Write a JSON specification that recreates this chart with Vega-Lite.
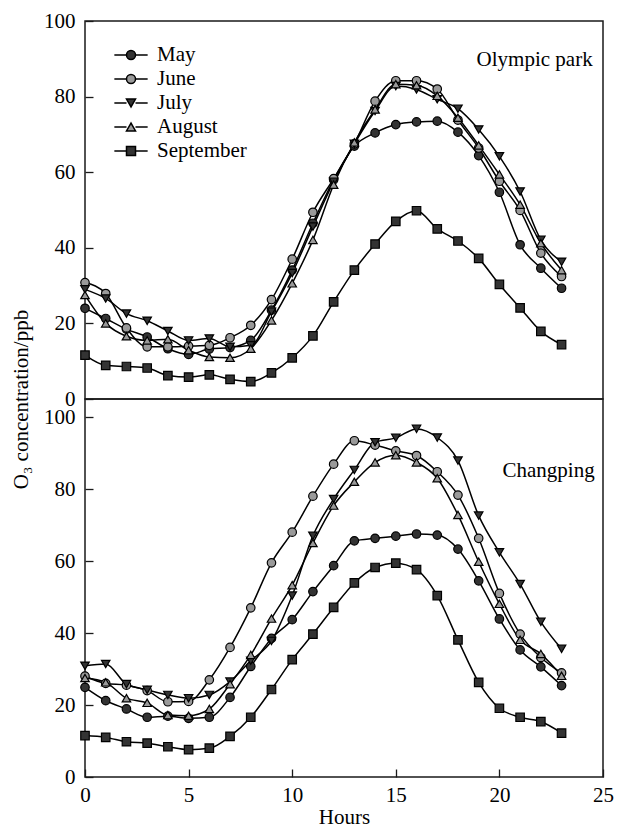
{
"$schema": "https://vega.github.io/schema/vega-lite/v6.json",
"padding": {"left": 9, "top": 9, "right": 10, "bottom": 0},
"bounds": "flush",
"spacing": 0,
"config": {
  "font": "Liberation Serif",
  "view": {"stroke": "#1a1a1a", "strokeWidth": 1.5},
  "axis": {"labelFont": "Liberation Serif", "labelFontSize": 21, "labelColor": "black", "titleFont": "Liberation Serif", "titleFontSize": 21, "titleFontWeight": "normal", "titleColor": "black", "tickColor": "#1a1a1a", "tickSize": -8, "tickWidth": 1.3, "domain": false, "grid": false, "labelFlush": false, "labelPadding": 18},
  "legend": {"labelFont": "Liberation Serif", "labelFontSize": 21, "labelColor": "black", "padding": 0, "symbolSize": 81, "rowPadding": 2, "labelOffset": 15.5, "symbolOpacity": 1}
},
"datasets": {
"olympic": [
{"m":"May","h":0,"v":24.0},{"m":"May","h":1,"v":21.3},{"m":"May","h":2,"v":18.5},{"m":"May","h":3,"v":16.4},{"m":"May","h":4,"v":13.3},{"m":"May","h":5,"v":11.8},{"m":"May","h":6,"v":13.2},{"m":"May","h":7,"v":13.6},{"m":"May","h":8,"v":15.5},{"m":"May","h":9,"v":23.5},{"m":"May","h":10,"v":34.1},{"m":"May","h":11,"v":46.5},{"m":"May","h":12,"v":58.0},{"m":"May","h":13,"v":66.9},{"m":"May","h":14,"v":70.4},{"m":"May","h":15,"v":72.6},{"m":"May","h":16,"v":73.3},{"m":"May","h":17,"v":73.5},{"m":"May","h":18,"v":70.6},{"m":"May","h":19,"v":64.4},{"m":"May","h":20,"v":54.7},{"m":"May","h":21,"v":40.8},{"m":"May","h":22,"v":34.6},{"m":"May","h":23,"v":29.3},
{"m":"June","h":0,"v":30.8},{"m":"June","h":1,"v":27.9},{"m":"June","h":2,"v":18.8},{"m":"June","h":3,"v":13.8},{"m":"June","h":4,"v":13.8},{"m":"June","h":5,"v":14.0},{"m":"June","h":6,"v":14.2},{"m":"June","h":7,"v":16.2},{"m":"June","h":8,"v":19.5},{"m":"June","h":9,"v":26.3},{"m":"June","h":10,"v":37.0},{"m":"June","h":11,"v":49.4},{"m":"June","h":12,"v":58.3},{"m":"June","h":13,"v":67.5},{"m":"June","h":14,"v":78.8},{"m":"June","h":15,"v":84.2},{"m":"June","h":16,"v":84.2},{"m":"June","h":17,"v":82.0},{"m":"June","h":18,"v":73.8},{"m":"June","h":19,"v":66.4},{"m":"June","h":20,"v":57.6},{"m":"June","h":21,"v":49.9},{"m":"June","h":22,"v":38.6},{"m":"June","h":23,"v":32.4},
{"m":"July","h":0,"v":29.0},{"m":"July","h":1,"v":26.6},{"m":"July","h":2,"v":22.6},{"m":"July","h":3,"v":20.7},{"m":"July","h":4,"v":18.0},{"m":"July","h":5,"v":15.5},{"m":"July","h":6,"v":16.0},{"m":"July","h":7,"v":13.8},{"m":"July","h":8,"v":14.2},{"m":"July","h":9,"v":23.1},{"m":"July","h":10,"v":33.3},{"m":"July","h":11,"v":45.6},{"m":"July","h":12,"v":57.5},{"m":"July","h":13,"v":67.5},{"m":"July","h":14,"v":76.2},{"m":"July","h":15,"v":82.8},{"m":"July","h":16,"v":81.9},{"m":"July","h":17,"v":79.3},{"m":"July","h":18,"v":76.8},{"m":"July","h":19,"v":71.3},{"m":"July","h":20,"v":64.2},{"m":"July","h":21,"v":54.9},{"m":"July","h":22,"v":42.1},{"m":"July","h":23,"v":36.3},
{"m":"August","h":0,"v":27.5},{"m":"August","h":1,"v":20.0},{"m":"August","h":2,"v":16.6},{"m":"August","h":3,"v":15.5},{"m":"August","h":4,"v":15.8},{"m":"August","h":5,"v":12.9},{"m":"August","h":6,"v":11.1},{"m":"August","h":7,"v":10.9},{"m":"August","h":8,"v":13.3},{"m":"August","h":9,"v":20.8},{"m":"August","h":10,"v":30.6},{"m":"August","h":11,"v":42.1},{"m":"August","h":12,"v":56.7},{"m":"August","h":13,"v":67.9},{"m":"August","h":14,"v":76.6},{"m":"August","h":15,"v":83.3},{"m":"August","h":16,"v":83.0},{"m":"August","h":17,"v":80.2},{"m":"August","h":18,"v":74.4},{"m":"August","h":19,"v":67.1},{"m":"August","h":20,"v":59.4},{"m":"August","h":21,"v":51.4},{"m":"August","h":22,"v":41.2},{"m":"August","h":23,"v":34.1},
{"m":"September","h":0,"v":11.6},{"m":"September","h":1,"v":8.9},{"m":"September","h":2,"v":8.6},{"m":"September","h":3,"v":8.2},{"m":"September","h":4,"v":6.2},{"m":"September","h":5,"v":5.8},{"m":"September","h":6,"v":6.4},{"m":"September","h":7,"v":5.2},{"m":"September","h":8,"v":4.6},{"m":"September","h":9,"v":6.9},{"m":"September","h":10,"v":10.9},{"m":"September","h":11,"v":16.7},{"m":"September","h":12,"v":25.7},{"m":"September","h":13,"v":34.1},{"m":"September","h":14,"v":41.0},{"m":"September","h":15,"v":47.0},{"m":"September","h":16,"v":49.8},{"m":"September","h":17,"v":45.0},{"m":"September","h":18,"v":41.8},{"m":"September","h":19,"v":37.2},{"m":"September","h":20,"v":30.3},{"m":"September","h":21,"v":24.1},{"m":"September","h":22,"v":17.9},{"m":"September","h":23,"v":14.4}
],
"changping": [
{"m":"May","h":0,"v":24.9},{"m":"May","h":1,"v":21.2},{"m":"May","h":2,"v":18.9},{"m":"May","h":3,"v":16.6},{"m":"May","h":4,"v":16.9},{"m":"May","h":5,"v":16.3},{"m":"May","h":6,"v":16.6},{"m":"May","h":7,"v":22.1},{"m":"May","h":8,"v":30.7},{"m":"May","h":9,"v":38.5},{"m":"May","h":10,"v":43.7},{"m":"May","h":11,"v":51.5},{"m":"May","h":12,"v":58.7},{"m":"May","h":13,"v":65.6},{"m":"May","h":14,"v":66.3},{"m":"May","h":15,"v":66.9},{"m":"May","h":16,"v":67.5},{"m":"May","h":17,"v":67.2},{"m":"May","h":18,"v":63.3},{"m":"May","h":19,"v":54.5},{"m":"May","h":20,"v":43.9},{"m":"May","h":21,"v":35.3},{"m":"May","h":22,"v":30.6},{"m":"May","h":23,"v":25.4},
{"m":"June","h":0,"v":28.0},{"m":"June","h":1,"v":26.0},{"m":"June","h":2,"v":25.5},{"m":"June","h":3,"v":24.0},{"m":"June","h":4,"v":20.9},{"m":"June","h":5,"v":21.0},{"m":"June","h":6,"v":27.0},{"m":"June","h":7,"v":36.0},{"m":"June","h":8,"v":47.0},{"m":"June","h":9,"v":59.5},{"m":"June","h":10,"v":68.0},{"m":"June","h":11,"v":78.0},{"m":"June","h":12,"v":86.9},{"m":"June","h":13,"v":93.4},{"m":"June","h":14,"v":92.2},{"m":"June","h":15,"v":90.6},{"m":"June","h":16,"v":89.3},{"m":"June","h":17,"v":84.8},{"m":"June","h":18,"v":78.3},{"m":"June","h":19,"v":66.3},{"m":"June","h":20,"v":51.0},{"m":"June","h":21,"v":39.7},{"m":"June","h":22,"v":33.2},{"m":"June","h":23,"v":28.9},
{"m":"July","h":0,"v":30.9},{"m":"July","h":1,"v":31.4},{"m":"July","h":2,"v":25.8},{"m":"July","h":3,"v":24.2},{"m":"July","h":4,"v":22.8},{"m":"July","h":5,"v":21.9},{"m":"July","h":6,"v":22.8},{"m":"July","h":7,"v":26.5},{"m":"July","h":8,"v":32.3},{"m":"July","h":9,"v":37.8},{"m":"July","h":10,"v":50.4},{"m":"July","h":11,"v":67.0},{"m":"July","h":12,"v":77.2},{"m":"July","h":13,"v":85.3},{"m":"July","h":14,"v":93.0},{"m":"July","h":15,"v":94.2},{"m":"July","h":16,"v":96.7},{"m":"July","h":17,"v":94.3},{"m":"July","h":18,"v":87.9},{"m":"July","h":19,"v":72.6},{"m":"July","h":20,"v":62.4},{"m":"July","h":21,"v":53.6},{"m":"July","h":22,"v":43.1},{"m":"July","h":23,"v":35.6},
{"m":"August","h":0,"v":27.5},{"m":"August","h":1,"v":26.3},{"m":"August","h":2,"v":21.9},{"m":"August","h":3,"v":20.6},{"m":"August","h":4,"v":17.2},{"m":"August","h":5,"v":17.0},{"m":"August","h":6,"v":18.9},{"m":"August","h":7,"v":25.8},{"m":"August","h":8,"v":33.9},{"m":"August","h":9,"v":44.0},{"m":"August","h":10,"v":53.3},{"m":"August","h":11,"v":65.0},{"m":"August","h":12,"v":75.4},{"m":"August","h":13,"v":82.0},{"m":"August","h":14,"v":87.4},{"m":"August","h":15,"v":89.4},{"m":"August","h":16,"v":87.4},{"m":"August","h":17,"v":83.0},{"m":"August","h":18,"v":72.8},{"m":"August","h":19,"v":59.8},{"m":"August","h":20,"v":48.1},{"m":"August","h":21,"v":38.1},{"m":"August","h":22,"v":34.2},{"m":"August","h":23,"v":28.1},
{"m":"September","h":0,"v":11.5},{"m":"September","h":1,"v":11.0},{"m":"September","h":2,"v":9.8},{"m":"September","h":3,"v":9.4},{"m":"September","h":4,"v":8.4},{"m":"September","h":5,"v":7.6},{"m":"September","h":6,"v":8.0},{"m":"September","h":7,"v":11.3},{"m":"September","h":8,"v":16.6},{"m":"September","h":9,"v":24.3},{"m":"September","h":10,"v":32.6},{"m":"September","h":11,"v":39.7},{"m":"September","h":12,"v":47.1},{"m":"September","h":13,"v":53.9},{"m":"September","h":14,"v":58.2},{"m":"September","h":15,"v":59.4},{"m":"September","h":16,"v":57.6},{"m":"September","h":17,"v":50.4},{"m":"September","h":18,"v":38.1},{"m":"September","h":19,"v":26.3},{"m":"September","h":20,"v":19.1},{"m":"September","h":21,"v":16.6},{"m":"September","h":22,"v":15.4},{"m":"September","h":23,"v":12.2}
]
},
"resolve": {"scale": {"shape": "independent", "fill": "independent", "stroke": "independent"}},
"vconcat": [
{
  "width": 518, "height": 378,
  "layer": [
    {"data": {"name": "olympic"},
     "mark": {"type": "line", "interpolate": "monotone", "strokeWidth": 1.5},
     "encoding": {
       "x": {"field": "h", "type": "quantitative", "scale": {"domain": [0, 25], "nice": false}, "axis": null},
       "y": {"field": "v", "type": "quantitative", "scale": {"domain": [0, 100], "nice": false}, "axis": {"values": [0, 20, 40, 60, 80, 100], "title": "O₃ concentration/ppb", "titleY": 378, "titlePadding": 12}},
       "stroke": {"field": "m", "type": "nominal", "sort": ["May", "June", "July", "August", "September"], "scale": {"range": ["black", "black", "black", "black", "black"]},
         "legend": {"title": null, "orient": "none", "legendX": 35.5, "legendY": 23.5, "symbolType": "M-3.7,0H-1M1,0H3.7", "symbolStrokeWidth": 1.5, "labelOpacity": 0}}}},
    {"data": {"name": "olympic"},
     "mark": {"type": "point", "filled": true, "size": 72, "stroke": "black", "strokeWidth": 1.2, "opacity": 1},
     "encoding": {
       "x": {"field": "h", "type": "quantitative"},
       "y": {"field": "v", "type": "quantitative"},
       "shape": {"field": "m", "type": "nominal", "scale": {"domain": ["May", "June", "July", "August", "September"], "range": ["circle", "circle", "triangle-down", "triangle-up", "square"]},
         "legend": {"title": null, "orient": "none", "legendX": 35.5, "legendY": 23.5}},
       "fill": {"field": "m", "type": "nominal", "scale": {"domain": ["May", "June", "July", "August", "September"], "range": ["#333333", "#9a9a9a", "#333333", "#9a9a9a", "#333333"]},
         "legend": {"title": null, "orient": "none", "legendX": 35.5, "legendY": 23.5}}}},
    {"data": {"values": [{"label": "Olympic park"}]},
     "mark": {"type": "text", "align": "right", "baseline": "middle", "fontSize": 21, "font": "Liberation Serif", "color": "black"},
     "encoding": {"x": {"datum": 24.5, "type": "quantitative"}, "y": {"datum": 89.8, "type": "quantitative"}, "text": {"field": "label"}}}
  ]
},
{
  "width": 518, "height": 378,
  "layer": [
    {"data": {"name": "changping"},
     "mark": {"type": "line", "interpolate": "monotone", "color": "black", "strokeWidth": 1.5},
     "encoding": {
       "x": {"field": "h", "type": "quantitative", "scale": {"domain": [0, 25], "nice": false}, "axis": {"values": [0, 5, 10, 15, 20, 25], "title": "Hours", "labelPadding": 15, "titlePadding": 1}},
       "y": {"field": "v", "type": "quantitative", "scale": {"domain": [0, 105], "nice": false}, "axis": {"values": [0, 20, 40, 60, 80, 100], "title": null}},
       "detail": {"field": "m"}}},
    {"data": {"name": "changping"},
     "mark": {"type": "point", "filled": true, "size": 72, "stroke": "black", "strokeWidth": 1.2, "opacity": 1},
     "encoding": {
       "x": {"field": "h", "type": "quantitative"},
       "y": {"field": "v", "type": "quantitative"},
       "shape": {"field": "m", "type": "nominal", "scale": {"domain": ["May", "June", "July", "August", "September"], "range": ["circle", "circle", "triangle-down", "triangle-up", "square"]}, "legend": null},
       "fill": {"field": "m", "type": "nominal", "scale": {"domain": ["May", "June", "July", "August", "September"], "range": ["#333333", "#9a9a9a", "#333333", "#9a9a9a", "#333333"]}, "legend": null}}},
    {"data": {"values": [{"label": "Changping"}]},
     "mark": {"type": "text", "align": "right", "baseline": "middle", "fontSize": 21, "font": "Liberation Serif", "color": "black"},
     "encoding": {"x": {"datum": 24.6, "type": "quantitative"}, "y": {"datum": 85.1, "type": "quantitative"}, "text": {"field": "label"}}}
  ]
}
]
}
